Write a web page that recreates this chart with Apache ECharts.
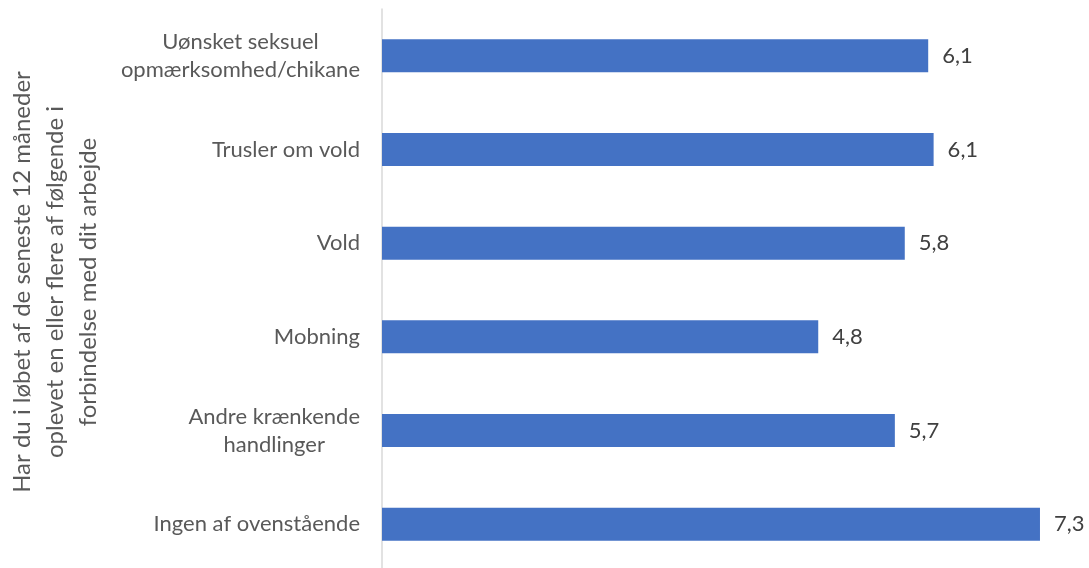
<!DOCTYPE html>
<html>
<head>
<meta charset="utf-8">
<script src="https://cdn.jsdelivr.net/npm/echarts@6/dist/echarts.min.js"></script>
<style>
html,body{margin:0;padding:0;background:#fff;}
#c{width:1089px;height:568px;}
</style>
</head>
<body>
<div id="c"></div>
<script>
var categories = [
  "Uønsket seksuel\nopmærksomhed/chikane",
  "Trusler om vold",
  "Vold",
  "Mobning",
  "Andre krænkende\nhandlinger",
  "Ingen af ovenstående"
];
var values = [6.06, 6.12, 5.80, 4.84, 5.69, 7.30];
var axisName = "Har du i løbet af de seneste 12 måneder\noplevet en eller flere af følgende i\nforbindelse med dit arbejde";

var chart = echarts.init(document.getElementById('c'));
chart.setOption({
  animation: false,
  grid: {left: 382, right: 31, top: 9, bottom: -3, containLabel: false, outerBoundsMode: 'none'},
  xAxis: {
    type: 'value', min: 0, max: 7.5, show: false
  },
  yAxis: {
    type: 'category',
    data: categories,
    inverse: true,
    axisLine: {show: true, lineStyle: {color: '#d9d9d9', width: 1.5}},
    axisTick: {show: false},
    axisLabel: {
      margin: 22, color: '#595959', fontFamily: 'Lato', fontSize: 22,
      lineHeight: 28, align: 'right',
      formatter: function (v) {
        return v.split('\n').map(function (s) { return '{c|' + s + '}'; }).join('\n');
      },
      rich: {c: {align: 'center', color: '#595959', fontFamily: 'Lato', fontSize: 22, lineHeight: 28}}
    },
    name: axisName,
    nameLocation: 'middle',
    nameRotate: 90,
    nameGap: 277,
    nameTextStyle: {color: '#595959', fontFamily: 'Lato', fontSize: 24, lineHeight: 33, align: 'center', padding: [0, 0, 0, 16]}
  },
  series: [{
    type: 'bar',
    data: values,
    barWidth: 33,
    itemStyle: {color: '#4472C4'},
    label: {
      show: true, position: 'right', distance: 14,
      color: '#404040', fontFamily: 'Lato', fontSize: 22,
      formatter: function (p) { return p.value.toFixed(1).replace('.', ','); }
    }
  }]
});
</script>
</body>
</html>
